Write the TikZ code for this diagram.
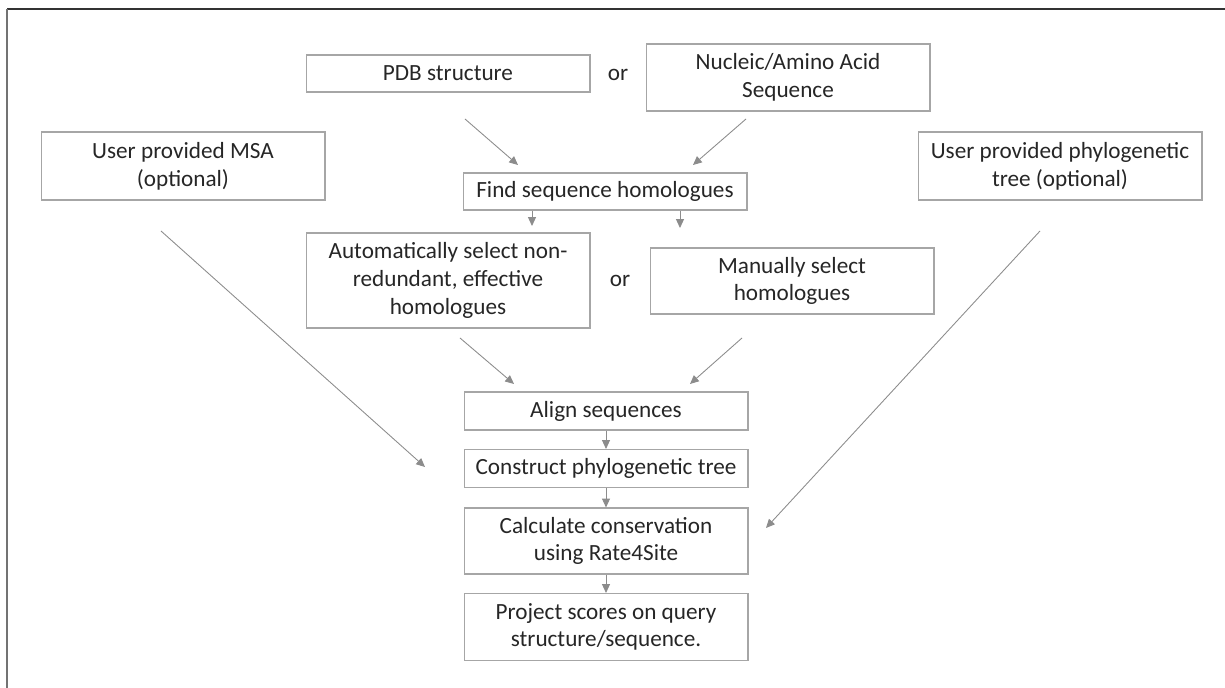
\documentclass[tikz,border=0pt]{standalone}
\usepackage{fontspec}
\setmainfont{Carlito}
\usepackage{xcolor}
\usetikzlibrary{arrows.meta,positioning,calc}
\definecolor{boxgray}{HTML}{A6A6A6}
\definecolor{arrowgray}{HTML}{8C8C8C}
\definecolor{textdark}{HTML}{262626}

\begin{document}
\begin{tikzpicture}[x=0.02cm,y=-0.02cm,
  stepbox/.style={draw=boxgray, line width=0.6pt, align=center, text=textdark,
    font=\fontsize{13.2}{15.8}\selectfont, inner sep=0pt, minimum width=5.68cm},
  flow/.style={draw=arrowgray, line width=0.5pt, -{Triangle[length=5pt,width=4.5pt]}},
  ortext/.style={text=textdark, font=\fontsize{13.2}{15.8}\selectfont}]
\useasboundingbox (0,0) rectangle (1225,688);
% frame
\draw[black!80, line width=1.2pt] (7,9) -- (1225,9);
\draw[black!55, line width=1.4pt] (7,9) -- (7,688);
% inputs
\node[stepbox, minimum height=0.74cm] (pdb) at (448,73.5) {PDB structure};
\node[ortext] (or1) at (618,75) {or};
\node[stepbox, minimum height=1.34cm] (seqin) at (788,77.5) {Nucleic/Amino Acid\\Sequence};
\node[stepbox, minimum height=1.36cm] (msa) at (183,166) {User provided MSA\\(optional)};
\node[stepbox, minimum height=1.36cm] (usertree) at (1060,166) {User provided phylogenetic\\tree (optional)};
% homologue search
\node[stepbox, minimum height=0.74cm] (findhom) at (605,191.5) {Find sequence homologues};
\node[stepbox, minimum height=1.9cm] (autosel) at (448,280.5) {Automatically select non-\\redundant, effective\\homologues};
\node[ortext] (or2) at (620,281) {or};
\node[stepbox, minimum height=1.32cm] (mansel) at (792,281) {Manually select\\homologues};
% pipeline
\node[stepbox, minimum height=0.76cm] (align) at (606,411) {Align sequences};
\node[stepbox, minimum height=0.76cm] (buildtree) at (606,468.5) {Construct phylogenetic tree};
\node[stepbox, minimum height=1.32cm] (calc) at (606,541) {Calculate conservation\\using Rate4Site};
\node[stepbox, minimum height=1.34cm] (project) at (606,627) {Project scores on query\\structure/sequence.};
% free arrow ends
\coordinate (pdbout) at (465,119);
\coordinate (seqout) at (746,119);
\coordinate (findinl) at (518,165);
\coordinate (findinr) at (693,165);
\coordinate (autoout) at (460,338);
\coordinate (manout) at (742,338);
\coordinate (alignl) at (514,384);
\coordinate (alignr) at (690,384);
\coordinate (msaout) at (161,231);
\coordinate (treein) at (425,467);
\coordinate (usertreeout) at (1040,231);
\coordinate (calcin) at (766,528);
% connectors
\draw[flow] (pdbout) -- (findinl);
\draw[flow] (seqout) -- (findinr);
\draw[flow] (findhom.south -| 532,0) -- (532,226);
\draw[flow] (findhom.south -| 680,0) -- (680,228);
\draw[flow] (autoout) -- (alignl);
\draw[flow] (manout) -- (alignr);
\draw[flow] (msaout) -- (treein);
\draw[flow] (usertreeout) -- (calcin);
\draw[flow] (align) -- (buildtree);
\draw[flow] (buildtree) -- (calc);
\draw[flow] (calc) -- (project);
\end{tikzpicture}
\end{document}
